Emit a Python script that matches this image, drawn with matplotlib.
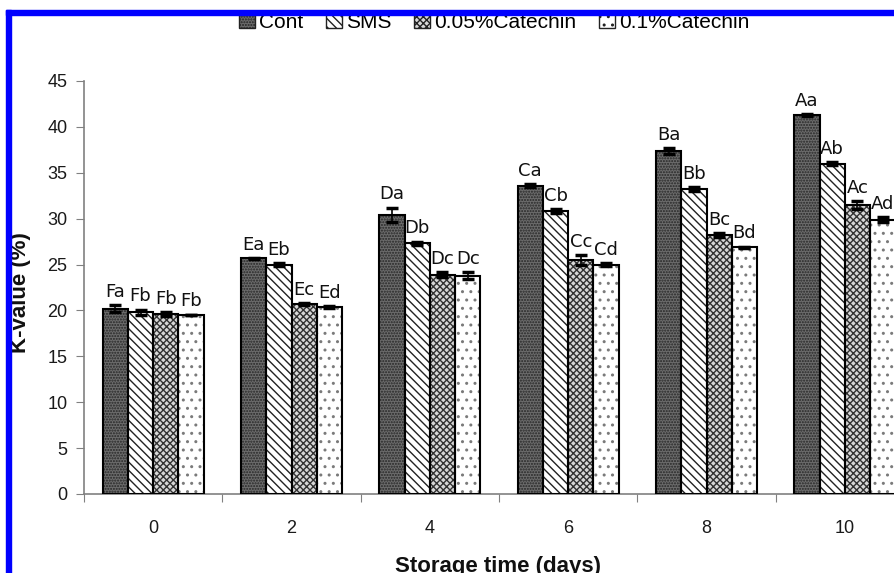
import numpy as np
import matplotlib
matplotlib.use('Agg')
import matplotlib.pyplot as plt
from matplotlib.patches import Patch, Rectangle
from matplotlib.ticker import FixedLocator, FixedFormatter, NullFormatter

days = ['0', '2', '4', '6', '8', '10']
treatments = ['Cont', 'SMS', '0.05%Catechin', '0.1%Catechin']

# K-value (%) means and error for each treatment over storage time
cont = [20.2, 25.7, 30.4, 33.6, 37.4, 41.3]
sms = [19.8, 25.0, 27.3, 30.8, 33.2, 36.0]
cat005 = [19.6, 20.7, 23.9, 25.5, 28.2, 31.5]
cat01 = [19.5, 20.4, 23.8, 25.0, 26.9, 29.9]

cont_err = [0.4, 0.05, 0.8, 0.2, 0.3, 0.1]
sms_err = [0.3, 0.2, 0.2, 0.2, 0.2, 0.2]
cat005_err = [0.2, 0.1, 0.3, 0.5, 0.2, 0.4]
cat01_err = [0.05, 0.1, 0.4, 0.2, 0.05, 0.3]

cont_lab = ['Fa', 'Ea', 'Da', 'Ca', 'Ba', 'Aa']
sms_lab = ['Fb', 'Eb', 'Db', 'Cb', 'Bb', 'Ab']
cat005_lab = ['Fb', 'Ec', 'Dc', 'Cc', 'Bc', 'Ac']
cat01_lab = ['Fb', 'Ed', 'Dc', 'Cd', 'Bd', 'Ad']

values = [cont, sms, cat005, cat01]
errors = [cont_err, sms_err, cat005_err, cat01_err]
labels = [cont_lab, sms_lab, cat005_lab, cat01_lab]

# fill colour, hatch, hatch colour
styles = [('#6c6c6c', '......', '#262626'),
          ('white', '\\\\\\\\', '#222222'),
          ('#d8d8d8', 'xxxxx', '#333333'),
          ('white', '..', '#7a7a7a')]

plt.rcParams['font.family'] = ['Liberation Sans', 'DejaVu Sans']

fig = plt.figure(figsize=(8.94, 5.73), dpi=100)
ax = fig.add_axes([84/894, 79/573, 830/894, 413/573])

x = np.arange(len(days))
w = 0.183
for i in range(4):
    pos = x + (i - 1.5) * w
    fc, hatch, hc = styles[i]
    ax.bar(pos, values[i], w, color=fc, hatch=hatch, edgecolor=hc, linewidth=0, zorder=2)
    ax.bar(pos, values[i], w, fill=False, edgecolor='black', linewidth=1.5, zorder=3)
    ax.errorbar(pos, values[i], yerr=errors[i], fmt='none', ecolor='black',
                elinewidth=1.2, capsize=4, capthick=2.5, zorder=4)
    for p, v, e, t in zip(pos, values[i], errors[i], labels[i]):
        ax.annotate(t, (p, v + e), xytext=(0, 3), textcoords='offset points',
                    ha='center', va='bottom', fontsize=13, family='DejaVu Sans',
                    color='#111111')

ax.set_xlim(-0.5, 5.5)
ax.set_ylim(0, 45)
ax.set_yticks(range(0, 46, 5))
ax.xaxis.set_major_locator(FixedLocator(np.arange(-0.5, 6, 1)))
ax.xaxis.set_major_formatter(NullFormatter())
ax.xaxis.set_minor_locator(FixedLocator(x))
ax.xaxis.set_minor_formatter(FixedFormatter(days))
ax.tick_params(axis='x', which='major', length=6, color='#808080')
ax.tick_params(axis='x', which='minor', length=0, pad=19, labelsize=13, labelcolor='#1a1a1a')
ax.tick_params(axis='y', length=6, color='#808080', pad=6, labelsize=13, labelcolor='#1a1a1a')
for s in ['top', 'right']:
    ax.spines[s].set_visible(False)
for s in ['left', 'bottom']:
    ax.spines[s].set_color('#808080')
    ax.spines[s].set_linewidth(1.2)

fig.text(21/894, 1 - 293/573, 'K-value (%)', rotation=90, ha='center', va='center',
         fontsize=16, fontweight='bold', color='#111111')
fig.text(498/894, 1 - 556/573, 'Storage time (days)', ha='center', va='top',
         fontsize=16, fontweight='bold', color='#111111')

handles = [Patch(facecolor=s[0], hatch=s[1], edgecolor='#222222') for s in styles]
fig.legend(handles, treatments, loc='center', bbox_to_anchor=(494/894, 1 - 22/573),
           ncol=4, frameon=False, fontsize=15, handlelength=0.75, handleheight=0.75,
           handletextpad=0.2, columnspacing=1.1, borderaxespad=0)

# blue border along the top and left edges
fig.add_artist(Rectangle((6/894, 1 - 15/573), 1, 5/573, transform=fig.transFigure,
                         color='#0000ff', zorder=10))
fig.add_artist(Rectangle((6/894, 0), 5/894, 1 - 10/573, transform=fig.transFigure,
                         color='#0000ff', zorder=10))

fig.savefig('out.png', dpi=100)
